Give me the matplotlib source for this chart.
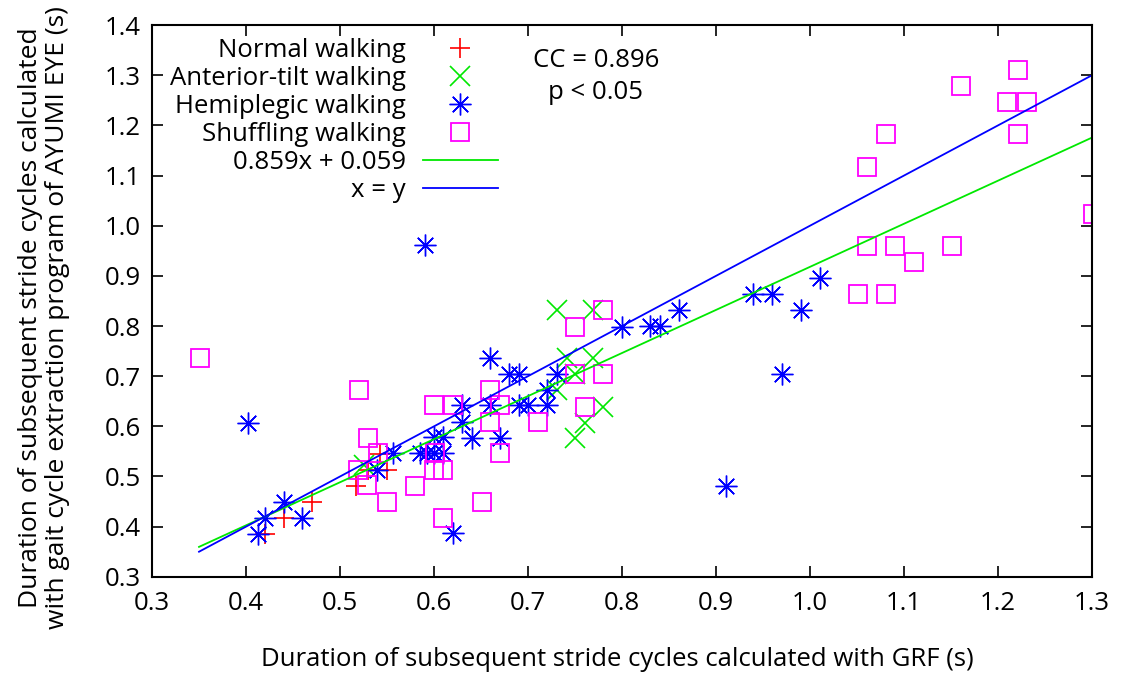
import matplotlib
matplotlib.use("Agg")
import matplotlib.pyplot as plt
import numpy as np

plt.rcParams['font.family'] = ['Open Sans', 'DejaVu Sans']

# Normal walking
normal_x = [0.42, 0.44, 0.47, 0.517, 0.53, 0.55, 0.543]
normal_y = [0.385, 0.417, 0.449, 0.482, 0.513, 0.513, 0.545]

# Anterior-tilt walking
anterior_x = [0.731, 0.769, 0.741, 0.769, 0.75, 0.731, 0.78, 0.761, 0.75, 0.525]
anterior_y = [0.832, 0.832, 0.736, 0.736, 0.704, 0.672, 0.639, 0.607, 0.577, 0.523]

# Hemiplegic walking
hemi_x = [0.402, 0.413, 0.42, 0.44, 0.46, 0.539, 0.556, 0.59, 0.585, 0.593,
          0.60, 0.61, 0.60, 0.61, 0.62, 0.63, 0.66, 0.69, 0.70, 0.72,
          0.63, 0.64, 0.67, 0.66, 0.68, 0.69, 0.731, 0.72, 0.80, 0.83,
          0.84, 0.861, 0.911, 0.939, 0.96, 0.97, 0.99, 1.011]
hemi_y = [0.607, 0.386, 0.417, 0.449, 0.417, 0.513, 0.547, 0.961, 0.547, 0.547,
          0.547, 0.547, 0.579, 0.579, 0.387, 0.643, 0.643, 0.643, 0.643, 0.643,
          0.609, 0.577, 0.577, 0.736, 0.704, 0.704, 0.704, 0.672, 0.798, 0.80,
          0.80, 0.832, 0.481, 0.864, 0.864, 0.704, 0.832, 0.896]

# Shuffling walking
shuffle_x = [0.351, 0.52, 0.53, 0.54, 0.519, 0.529, 0.55, 0.58, 0.60, 0.62,
             0.601, 0.60, 0.61, 0.61, 0.651, 0.66, 0.66, 0.67, 0.67, 0.711,
             0.75, 0.78, 0.75, 0.78, 0.761, 1.051, 1.061, 1.061, 1.081, 1.081,
             1.09, 1.111, 1.151, 1.161, 1.21, 1.221, 1.221, 1.231, 1.301]
shuffle_y = [0.736, 0.672, 0.577, 0.547, 0.513, 0.483, 0.449, 0.481, 0.643, 0.643,
             0.547, 0.513, 0.513, 0.417, 0.449, 0.672, 0.609, 0.643, 0.547, 0.609,
             0.798, 0.832, 0.704, 0.704, 0.639, 0.864, 0.959, 1.117, 1.183, 0.864,
             0.959, 0.928, 0.959, 1.278, 1.246, 1.31, 1.183, 1.246, 1.023]

fit_slope, fit_icpt = 0.859, 0.059
line_x = [0.35, 1.3]

xticks = [0.3, 0.4, 0.5, 0.6, 0.7, 0.8, 0.9, 1.0, 1.1, 1.2, 1.3]
yticks = [0.3, 0.4, 0.5, 0.6, 0.7, 0.8, 0.9, 1.0, 1.1, 1.2, 1.3, 1.4]

RED, GREEN, BLUE, MAGENTA = '#ff0000', '#00e800', '#0000ff', '#ff00ff'
FS = 18.5

fig = plt.figure(figsize=(11.21, 6.77), dpi=100)
ax = fig.add_axes([0.1356, 0.148, 0.8386, 0.815])

ms = 14.5
ax.plot(normal_x, normal_y, ls='none', marker='+', ms=ms, mew=1.2, color=RED,
        label='Normal walking')
ax.plot(anterior_x, anterior_y, ls='none', marker='x', ms=ms * 0.95, mew=1.2, color=GREEN,
        label='Anterior-tilt walking')
ax.plot(hemi_x, hemi_y, ls='none', marker=(8, 2, 0), ms=ms * 1.08, mew=1.0, color=BLUE,
        label='Hemiplegic walking')
ax.plot(shuffle_x, shuffle_y, ls='none', marker='s', ms=ms * 0.93, mew=1.3, mfc='none',
        mec=MAGENTA, label='Shuffling walking')

lx = np.array(line_x)
ax.plot(lx, fit_slope * lx + fit_icpt, color=GREEN, lw=1.3, label='0.859x + 0.059')
ax.plot(lx, lx, color=BLUE, lw=1.3, label='x = y')

ax.set_xlim(0.3, 1.3)
ax.set_ylim(0.3, 1.4)
ax.set_xticks(xticks)
ax.set_yticks(yticks)
ax.set_xticklabels([f'{t:.1f}' for t in xticks])
ax.set_yticklabels([f'{t:.1f}' for t in yticks])
ax.tick_params(direction='in', length=8, width=1.2, top=True, right=True,
               labelsize=FS)
ax.tick_params(axis='x', pad=10)
ax.tick_params(axis='y', pad=8)
for s in ax.spines.values():
    s.set_linewidth(1.5)

ax.set_xlabel('Duration of subsequent stride cycles calculated with GRF (s)', fontsize=FS)
ax.xaxis.set_label_coords(0.495, -0.128)
ax.set_ylabel('Duration of subsequent stride cycles calculated\n'
              'with gait cycle extraction program of AYUMI EYE (s)',
              fontsize=19, linespacing=1.1)
ax.yaxis.set_label_coords(-0.087, 0.47)

leg = ax.legend(loc='upper right', bbox_to_anchor=(0.368, 0.976), frameon=False,
                markerfirst=False, fontsize=FS, handlelength=2.92, handletextpad=0.66,
                labelspacing=0.115, borderpad=0, borderaxespad=0)

ax.text(0.472, 0.907, 'CC = 0.896\np < 0.05', transform=ax.transAxes,
        ha='center', va='center', fontsize=FS, linespacing=1.35)

fig.savefig('out.png', dpi=100)
